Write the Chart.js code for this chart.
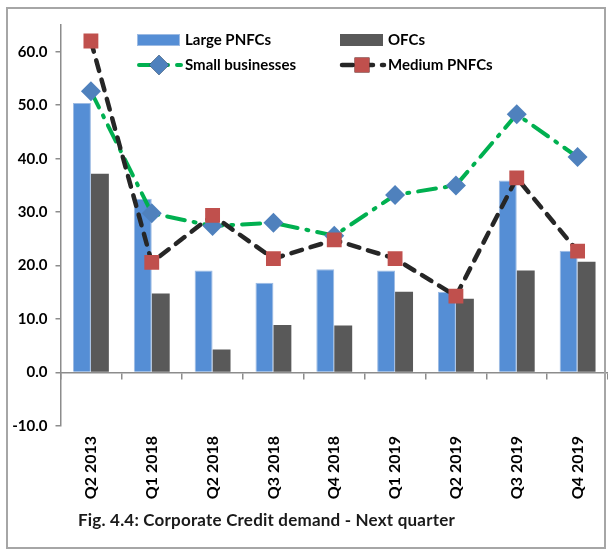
<!DOCTYPE html>
<html>
<head>
<meta charset="utf-8">
<script src="https://cdn.jsdelivr.net/npm/chart.js@4.4.1/dist/chart.umd.min.js"></script>
<style>
    body { margin: 0; background: #fff; }
    #wrap { position: relative; width: 608px; height: 553px; }
    #frame { position: absolute; left: 6px; top: 7px; width: 596px; height: 538px; border: 2px solid #a6a6a6; pointer-events: none; }
    #title { position: absolute; left: 78px; top: 509px; font: bold 17px Lato, sans-serif; color: #1a1a1a; white-space: nowrap; letter-spacing: 0.2px; }
</style>
</head>
<body>
<div id="wrap">
    <canvas id="myChart" width="608" height="553"></canvas>
    <div id="frame"></div>
    <div id="title">Fig. 4.4: Corporate Credit demand - Next quarter</div>
</div>
<script>
var quarters = ['Q2 2013', 'Q1 2018', 'Q2 2018', 'Q3 2018', 'Q4 2018', 'Q1 2019', 'Q2 2019', 'Q3 2019', 'Q4 2019']
var largePNFCs = [50.4, 32.5, 19.1, 16.8, 19.3, 19.1, 15.1, 35.9, 22.8]
var ofcs = [37.2, 14.8, 4.3, 8.9, 8.8, 15.1, 13.8, 19.1, 20.7]
var smallBusinesses = [52.6, 29.8, 27.4, 28.0, 25.6, 33.2, 35.0, 48.3, 40.3]
var mediumPNFCs = [62.0, 20.6, 29.4, 21.3, 24.8, 21.3, 14.3, 36.4, 22.7]
var yTicks = [-10, 0, 10, 20, 30, 40, 50, 60]

var font = 'Lato, sans-serif'

// legend drawn as a 2x2 grid like the original
var gridLegend = {
    id: 'gridLegend',
    afterDraw: function (chart) {
        var ctx = chart.ctx
        var ds = chart.data.datasets
        var cols = [137, 340]
        var rows = [40, 65]
        ctx.save()
        ctx.font = 'bold 15px ' + font
        ctx.fillStyle = '#000'
        ctx.textBaseline = 'middle'
        // bars
        for (var i = 0; i < 2; i++) {
            var x = cols[i], y = rows[0]
            ctx.fillStyle = ds[i].backgroundColor
            ctx.fillRect(x, y - 6, 43, 12)
            ctx.strokeStyle = ds[i].borderColor
            ctx.lineWidth = 1
            ctx.strokeRect(x + 0.5, y - 5.5, 42, 11)
            ctx.fillStyle = '#000'
            ctx.fillText(ds[i].label, x + 48, y)
        }
        // lines
        for (var j = 2; j < 4; j++) {
            var lx = cols[j - 2], ly = rows[1]
            ctx.strokeStyle = ds[j].borderColor
            ctx.lineWidth = ds[j].borderWidth
            ctx.lineCap = 'round'
            ctx.setLineDash(ds[j].borderDash)
            ctx.beginPath()
            ctx.moveTo(lx + 2, ly)
            ctx.lineTo(lx + 44, ly)
            ctx.stroke()
            ctx.setLineDash([])
            Chart.helpers.drawPoint(ctx, {
                pointStyle: ds[j].pointStyle,
                radius: ds[j].pointRadius,
                borderWidth: 0
            }, lx + 22, ly)
            ctx.fillStyle = ds[j].pointBackgroundColor
            ctx.fill()
            ctx.fillStyle = '#000'
            ctx.fillText(ds[j].label, lx + 48, ly)
        }
        ctx.restore()
    }
}

var myChart = document.getElementById('myChart').getContext('2d')

var chart = new Chart(myChart, {
    type: 'bar',
    data: {
        labels: quarters,
        datasets: [
            {
                label: 'Large PNFCs',
                data: largePNFCs,
                backgroundColor: '#558ED5',
                borderColor: '#9DBBE3',
                borderWidth: 1,
                categoryPercentage: 0.59,
                barPercentage: 1,
                order: 3
            },
            {
                label: 'OFCs',
                data: ofcs,
                backgroundColor: '#595959',
                borderColor: '#595959',
                borderWidth: 0,
                categoryPercentage: 0.59,
                barPercentage: 1,
                order: 3
            },
            {
                type: 'line',
                label: 'Small businesses',
                data: smallBusinesses,
                borderColor: '#00B050',
                borderWidth: 4,
                borderDash: [18, 9, 2, 9],
                borderCapStyle: 'round',
                pointStyle: 'rectRot',
                pointRadius: 10,
                pointBackgroundColor: '#4F81BD',
                pointBorderWidth: 0,
                tension: 0,
                order: 2
            },
            {
                type: 'line',
                label: 'Medium PNFCs',
                data: mediumPNFCs,
                borderColor: '#262626',
                borderWidth: 4.5,
                borderDash: [11, 9],
                borderCapStyle: 'round',
                pointStyle: 'rect',
                pointRadius: 10.5,
                pointBackgroundColor: '#C0504D',
                pointBorderWidth: 0,
                tension: 0,
                order: 1
            }
        ]
    },
    options: {
        responsive: false,
        animation: false,
        layout: { autoPadding: false, padding: { top: 25, left: 0, right: -5, bottom: 0 } },
        plugins: {
            legend: { display: false },
            tooltip: { enabled: false }
        },
        scales: {
            x: {
                position: 'bottom',
                grid: { display: false },
                border: { display: false },
                ticks: {
                    maxRotation: 90,
                    minRotation: 90,
                    padding: 2,
                    color: '#000',
                    font: { family: font, size: 16, weight: 'bold' }
                },
                afterFit: function (axis) {
                    axis.height = 127
                    axis.paddingLeft = 0
                    axis.paddingRight = 0
                }
            },
            x2: {
                type: 'category',
                labels: quarters,
                position: { y: 0 },
                offset: true,
                grid: { drawOnChartArea: false, offset: true, tickLength: 6, color: '#8c8c8c', lineWidth: 1.5 },
                border: { color: '#8c8c8c', width: 1.5 },
                ticks: { display: false }
            },
            y: {
                min: -10,
                max: 65,
                afterBuildTicks: function (axis) {
                    axis.ticks = yTicks.map(function (v) { return { value: v } })
                },
                grid: { drawOnChartArea: false, tickLength: 5, color: '#8c8c8c', lineWidth: 1.5 },
                border: { color: '#8c8c8c', width: 1.5 },
                ticks: {
                    padding: 8,
                    color: '#000',
                    font: { family: font, size: 15, weight: 'bold' },
                    callback: function (v) { return Number(v).toFixed(1) }
                },
                afterFit: function (axis) {
                    axis.width = 60.5
                    axis.paddingTop = 0
                    axis.paddingBottom = 0
                }
            }
        }
    },
    plugins: [gridLegend]
})
</script>
</body>
</html>
